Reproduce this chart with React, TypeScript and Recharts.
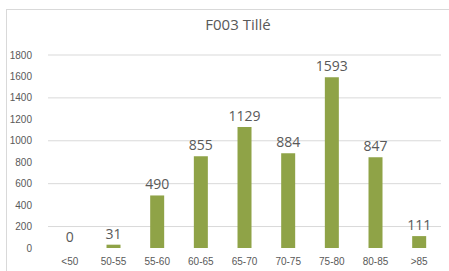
import { Bar, CartesianGrid, ComposedChart, LabelList, Line, XAxis, YAxis } from "recharts";

const categories = ["<50", "50-55", "55-60", "60-65", "65-70", "70-75", "75-80", "80-85", ">85"];
const counts = [0, 31, 490, 855, 1129, 884, 1593, 847, 111];
const yTicks = [0, 200, 400, 600, 800, 1000, 1200, 1400, 1600, 1800];

const data = categories.map((name, i) => ({ name, value: counts[i] }));

const tickStyle = { fontSize: 10, fill: "#595959", fontFamily: "Liberation Sans, Arial, sans-serif" };

export default function App() {
  return (
    <div
      style={{
        position: "absolute",
        left: 0,
        top: 0,
        width: 449,
        height: 271,
        background: "#fff",
        overflow: "hidden",
      }}
    >
      <div
        style={{
          position: "absolute",
          left: 6,
          top: 9,
          width: 460,
          height: 280,
          border: "1px solid #d9d9d9",
        }}
      />
      <div
        style={{
          position: "absolute",
          left: 0,
          width: 476,
          top: 14,
          textAlign: "center",
          fontFamily: "Open Sans, sans-serif",
          fontSize: 15,
          color: "#595959",
        }}
      >
        F003 Tillé
      </div>
      <div style={{ position: "absolute", left: 0, top: 0 }}>
        <ComposedChart
          width={449}
          height={271}
          data={data}
          margin={{ top: 55, right: 8, left: 8, bottom: 0 }}
          barCategoryGap="34%"
        >
          <CartesianGrid
            vertical={false}
            stroke="#d9d9d9"
            horizontalValues={yTicks.slice(1)}
          />
          <XAxis
            dataKey="name"
            height={23}
            axisLine={false}
            tickLine={false}
            tick={tickStyle}
            interval={0}
            tickMargin={4}
          />
          <YAxis
            width={40}
            domain={[0, 1800]}
            ticks={yTicks}
            axisLine={false}
            tickLine={false}
            tick={tickStyle}
            tickMargin={10}
          />
          <Bar dataKey="value" fill="#8FA347" isAnimationActive={false} />
          {/* invisible line, only used to place the value labels (incl. the 0) */}
          <Line
            dataKey="value"
            stroke="none"
            dot={false}
            activeDot={false}
            isAnimationActive={false}
          >
            <LabelList
              dataKey="value"
              position="top"
              offset={6}
              style={{ fontSize: 14, fill: "#595959", fontFamily: "Open Sans, sans-serif" }}
            />
          </Line>
        </ComposedChart>
      </div>
    </div>
  );
}
